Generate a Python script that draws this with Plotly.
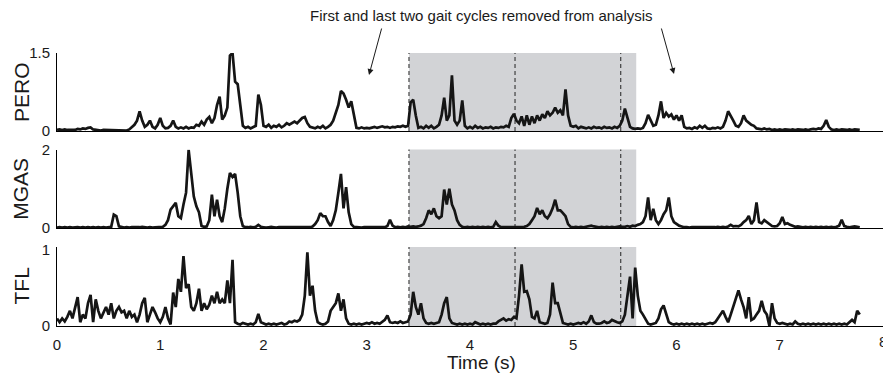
import plotly.graph_objects as go

T_STEP = 0.025

pero = (
    [0.02,0.03,0.02,0.03,0.02,0.02,0.03,0.02,0.04,0.03] +
    [0.05,0.04,0.06,0.07,0.03,0.02,0.02,0.01,0.02,0.02] +
    [0.02,0.01,0.02,0.02,0.01,0.02,0.02,0.01,0.03,0.08] +
    [0.12,0.20,0.38,0.20,0.08,0.12,0.20,0.08,0.05,0.12] +
    [0.25,0.10,0.05,0.06,0.10,0.20,0.08,0.05,0.07,0.05] +
    [0.08,0.05,0.07,0.06,0.12,0.10,0.18,0.12,0.22,0.27] +
    [0.15,0.25,0.50,0.66,0.22,0.30,0.45,1.45,1.50,0.95] +
    [0.90,0.50,0.10,0.06,0.08,0.05,0.07,0.10,0.70,0.50] +
    [0.10,0.08,0.12,0.06,0.10,0.08,0.12,0.07,0.10,0.15] +
    [0.12,0.15,0.18,0.15,0.20,0.25,0.27,0.15,0.08,0.06] +
    [0.05,0.08,0.06,0.10,0.05,0.08,0.12,0.20,0.35,0.50] +
    [0.77,0.72,0.60,0.45,0.57,0.30,0.06,0.05,0.07,0.05] +
    [0.06,0.05,0.07,0.08,0.06,0.07,0.09,0.07,0.08,0.06] +
    [0.08,0.07,0.09,0.08,0.10,0.08,0.10,0.55,0.60,0.30] +
    [0.06,0.08,0.05,0.10,0.06,0.10,0.05,0.08,0.12,0.30] +
    [0.64,0.20,0.30,1.07,0.20,0.12,0.20,0.59,0.10,0.05] +
    [0.08,0.05,0.10,0.06,0.08,0.05,0.07,0.06,0.08,0.05] +
    [0.07,0.06,0.08,0.07,0.10,0.08,0.25,0.33,0.20,0.15] +
    [0.28,0.10,0.30,0.12,0.28,0.15,0.30,0.20,0.32,0.25] +
    [0.38,0.30,0.35,0.45,0.35,0.40,0.30,0.80,0.30,0.10] +
    [0.08,0.10,0.05,0.08,0.06,0.05,0.07,0.05,0.08,0.06] +
    [0.07,0.05,0.08,0.06,0.07,0.05,0.08,0.06,0.10,0.20] +
    [0.43,0.25,0.08,0.05,0.04,0.05,0.04,0.06,0.15,0.31] +
    [0.20,0.10,0.12,0.30,0.57,0.25,0.35,0.28,0.32,0.22] +
    [0.30,0.20,0.30,0.08,0.05,0.06,0.04,0.07,0.05,0.10] +
    [0.06,0.10,0.05,0.04,0.06,0.05,0.07,0.05,0.08,0.20] +
    [0.38,0.30,0.20,0.10,0.08,0.15,0.30,0.20,0.15,0.12] +
    [0.10,0.05,0.04,0.03,0.05,0.03,0.04,0.02,0.03,0.02] +
    [0.03,0.02,0.03,0.02,0.02,0.03,0.02,0.03,0.02,0.02] +
    [0.03,0.02,0.03,0.04,0.03,0.05,0.04,0.10,0.21,0.08] +
    [0.03,0.02,0.03,0.02,0.03,0.02,0.02,0.03,0.02,0.03] +
    [0.02,0.02]
)

mgas = (
    [0.01,0.02,0.01,0.02,0.01,0.02,0.01,0.02,0.02,0.01] +
    [0.02,0.01,0.02,0.01,0.02,0.01,0.02,0.01,0.02,0.01] +
    [0.02,0.03,0.34,0.30,0.04,0.02,0.01,0.02,0.01,0.02] +
    [0.02,0.01,0.02,0.03,0.02,0.01,0.02,0.01,0.02,0.02] +
    [0.02,0.03,0.08,0.20,0.47,0.55,0.64,0.30,0.25,0.60] +
    [0.90,1.99,1.40,0.80,0.55,0.40,0.05,0.03,0.04,0.20] +
    [0.85,0.30,0.72,0.30,0.15,0.50,1.00,1.40,1.30,1.38] +
    [0.90,0.30,0.05,0.02,0.02,0.03,0.02,0.03,0.08,0.03] +
    [0.02,0.01,0.02,0.03,0.02,0.01,0.02,0.02,0.01,0.02] +
    [0.02,0.01,0.02,0.02,0.01,0.02,0.02,0.01,0.02,0.04] +
    [0.10,0.20,0.38,0.30,0.30,0.15,0.05,0.20,0.45,0.90] +
    [1.38,0.50,1.04,0.40,0.10,0.03,0.02,0.02,0.01,0.02] +
    [0.02,0.01,0.02,0.02,0.01,0.02,0.02,0.02,0.05,0.21] +
    [0.06,0.02,0.03,0.02,0.03,0.02,0.04,0.03,0.04,0.03] +
    [0.04,0.06,0.10,0.25,0.45,0.35,0.50,0.30,0.25,0.30] +
    [0.98,0.60,1.00,0.60,0.45,0.20,0.08,0.03,0.02,0.03] +
    [0.02,0.03,0.02,0.03,0.02,0.03,0.02,0.03,0.02,0.03] +
    [0.15,0.06,0.02,0.02,0.03,0.02,0.03,0.02,0.03,0.02] +
    [0.02,0.03,0.05,0.10,0.20,0.30,0.51,0.35,0.45,0.30] +
    [0.25,0.35,0.50,0.72,0.45,0.45,0.38,0.30,0.10,0.03] +
    [0.02,0.03,0.02,0.03,0.02,0.03,0.04,0.06,0.04,0.03] +
    [0.02,0.03,0.02,0.03,0.02,0.03,0.02,0.03,0.04,0.03] +
    [0.03,0.05,0.03,0.06,0.05,0.08,0.10,0.15,0.30,0.78] +
    [0.20,0.49,0.20,0.10,0.20,0.35,0.45,0.78,0.30,0.15] +
    [0.10,0.06,0.04,0.02,0.02,0.01,0.02,0.02,0.01,0.02] +
    [0.02,0.01,0.02,0.02,0.01,0.02,0.03,0.02,0.03,0.02] +
    [0.04,0.08,0.04,0.05,0.04,0.08,0.15,0.20,0.31,0.10] +
    [0.20,0.65,0.15,0.12,0.20,0.15,0.10,0.05,0.04,0.05] +
    [0.12,0.28,0.10,0.12,0.08,0.05,0.03,0.04,0.03,0.02] +
    [0.03,0.02,0.03,0.02,0.03,0.02,0.03,0.02,0.03,0.02] +
    [0.03,0.02,0.03,0.06,0.21,0.05,0.03,0.02,0.03,0.04] +
    [0.03,0.02]
)

tfl = (
    [0.10,0.05,0.10,0.06,0.12,0.20,0.10,0.25,0.38,0.05] +
    [0.15,0.10,0.30,0.41,0.05,0.35,0.20,0.10,0.18,0.25] +
    [0.15,0.30,0.10,0.20,0.25,0.18,0.20,0.10,0.20,0.12] +
    [0.15,0.05,0.15,0.30,0.37,0.05,0.15,0.25,0.18,0.10] +
    [0.05,0.12,0.25,0.10,0.02,0.44,0.25,0.62,0.45,0.92] +
    [0.50,0.55,0.25,0.20,0.30,0.49,0.20,0.30,0.22,0.28] +
    [0.40,0.30,0.45,0.30,0.35,0.30,0.60,0.30,0.87,0.05] +
    [0.03,0.02,0.04,0.03,0.02,0.03,0.02,0.05,0.16,0.05] +
    [0.03,0.02,0.03,0.02,0.03,0.02,0.03,0.04,0.02,0.03] +
    [0.06,0.05,0.07,0.06,0.08,0.15,0.40,0.97,0.40,0.53] +
    [0.20,0.05,0.03,0.02,0.03,0.06,0.20,0.25,0.30,0.43] +
    [0.20,0.35,0.10,0.03,0.02,0.03,0.02,0.03,0.02,0.03] +
    [0.04,0.03,0.05,0.03,0.04,0.03,0.05,0.08,0.14,0.05] +
    [0.04,0.05,0.04,0.06,0.04,0.05,0.06,0.15,0.45,0.25] +
    [0.15,0.30,0.10,0.04,0.03,0.04,0.03,0.04,0.05,0.15] +
    [0.30,0.38,0.10,0.04,0.03,0.02,0.03,0.02,0.03,0.02] +
    [0.03,0.02,0.05,0.03,0.02,0.03,0.02,0.03,0.02,0.03] +
    [0.03,0.06,0.08,0.10,0.07,0.09,0.08,0.12,0.10,0.40] +
    [0.81,0.45,0.46,0.35,0.12,0.10,0.20,0.05,0.04,0.03] +
    [0.04,0.15,0.57,0.30,0.30,0.15,0.04,0.03,0.02,0.03] +
    [0.02,0.03,0.04,0.03,0.05,0.03,0.06,0.14,0.05,0.03] +
    [0.03,0.04,0.06,0.04,0.05,0.08,0.06,0.05,0.04,0.06] +
    [0.15,0.40,0.65,0.10,0.77,0.40,0.20,0.15,0.08,0.03] +
    [0.02,0.03,0.04,0.10,0.22,0.27,0.15,0.05,0.03,0.02] +
    [0.03,0.02,0.03,0.02,0.03,0.02,0.03,0.02,0.03,0.02] +
    [0.03,0.02,0.03,0.04,0.03,0.05,0.10,0.15,0.20,0.12] +
    [0.05,0.15,0.25,0.35,0.47,0.35,0.25,0.10,0.38,0.08] +
    [0.10,0.15,0.20,0.33,0.20,0.15,0.00,0.30,0.10,0.04] +
    [0.03,0.04,0.03,0.02,0.03,0.02,0.06,0.03,0.02,0.03] +
    [0.02,0.03,0.02,0.03,0.02,0.03,0.02,0.03,0.02,0.03] +
    [0.02,0.03,0.02,0.03,0.02,0.03,0.02,0.05,0.08,0.05] +
    [0.20,0.15]
)

muscles = ["PERO", "MGAS", "TFL"]
y_max = [1.5, 2, 1]
y_top = [1.5, 2, 1.04]
x_ticks = [0, 1, 2, 3, 4, 5, 6, 7]
x_last_tick = 8
analysis_window = [3.409, 5.61]
cycle_marks = [3.409, 4.436, 5.46]
note_text = "First and last two gait cycles removed from analysis"

times = [round(i * T_STEP, 3) for i in range(len(pero))]
series = [pero, mgas, tfl]

# layout in pixels
W, H = 883, 378
ML, MR, MT, MB = 57, 0, 53, 52
PW, PH = W - ML - MR, H - MT - MB
panel_px = [(53, 131), (149.5, 228), (247, 326)]


def py(v):
    return (MT + PH - v) / PH


def px(v):
    return (v - ML) / PW


fig = go.Figure()
FONT = "Arial, 'Liberation Sans', sans-serif"
TICKFONT = dict(family=FONT, size=15, color="#1a1a1a")
shapes = []
annotations = []
for i, (name, vals) in enumerate(zip(muscles, series)):
    k = "" if i == 0 else str(i + 1)
    fig.add_trace(go.Scatter(x=times, y=vals, mode="lines",
                             line=dict(color="#151515", width=2.7),
                             xaxis="x" + k, yaxis="y" + k, showlegend=False,
                             hoverinfo="skip"))
    top, bot = panel_px[i]
    fig.layout["xaxis" + k] = dict(
        domain=[0, 1], range=[0, x_last_tick], anchor="y" + k, showline=True,
        linecolor="#000", linewidth=1, showgrid=False, zeroline=False,
        tickvals=x_ticks, showticklabels=(i == 2), ticks="outside",
        ticklen=5, tickcolor="rgba(0,0,0,0)", automargin=False,
        tickfont=TICKFONT)
    fig.layout["yaxis" + k] = dict(
        domain=[py(bot), py(top)], range=[0, y_top[i]], anchor="x" + k,
        showline=True, linecolor="#000", linewidth=1, showgrid=False,
        zeroline=False, tickvals=[0, y_max[i]], ticks="outside", ticklen=3,
        tickcolor="rgba(0,0,0,0)", automargin=False, tickfont=TICKFONT)
    shapes.append(dict(type="rect", xref="x" + k, yref="y" + k + " domain",
                       x0=analysis_window[0], x1=analysis_window[1], y0=0, y1=1,
                       fillcolor="#d2d3d6", line=dict(width=0), layer="below"))
    for m in cycle_marks:
        shapes.append(dict(type="line", xref="x" + k, yref="y" + k + " domain",
                           x0=m, x1=m, y0=0, y1=1, layer="below",
                           line=dict(color="#222", width=1, dash="4px,3px")))
    annotations.append(dict(text=name, xref="paper", yref="paper",
                            x=px(21), y=py((top + bot) / 2), textangle=-90,
                            showarrow=False, xanchor="center", yanchor="middle",
                            font=dict(family=FONT, size=21, color="#1a1a1a")))

# last tick label sits on the right edge (partly cut off, as in the original)
annotations.append(dict(text=str(x_last_tick), xref="x3", yref="paper",
                        x=x_last_tick, y=py(341), showarrow=False,
                        xanchor="center", yanchor="middle", font=TICKFONT))
annotations.append(dict(text="Time (s)", xref="paper", yref="paper",
                        x=px(481), y=py(362), showarrow=False,
                        xanchor="center", yanchor="middle",
                        font=dict(family=FONT, size=19, color="#1a1a1a")))
annotations.append(dict(text=note_text, xref="paper", yref="paper",
                        x=px(481), y=py(15), showarrow=False,
                        xanchor="center", yanchor="middle",
                        font=dict(family=FONT, size=15, color="#1a1a1a")))
for tip, tail in [((369, 75), (382, 27)), ((674, 74), (661, 27))]:
    annotations.append(dict(text="", xref="paper", yref="paper",
                            x=px(tip[0]), y=py(tip[1]),
                            ax=tail[0] - tip[0], ay=tail[1] - tip[1],
                            showarrow=True, arrowhead=2, arrowsize=1.2,
                            arrowwidth=1, arrowcolor="#1a1a1a"))

fig.update_layout(width=W, height=H, margin=dict(l=ML, r=MR, t=MT, b=MB),
                  plot_bgcolor="white", paper_bgcolor="white",
                  shapes=shapes, annotations=annotations, template="none")

fig.write_html("out.html", config={"displayModeBar": False},
               post_script="document.body.style.margin='0';"
                           "document.body.style.overflow='hidden';")
